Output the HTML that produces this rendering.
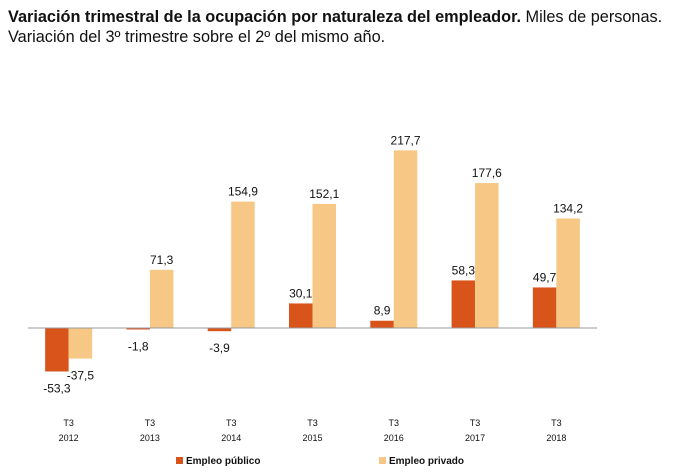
<!DOCTYPE html>
<html><head><meta charset="utf-8"><style>
body{margin:0;background:#fff;width:674px;height:474px;overflow:hidden;font-family:"Liberation Sans",sans-serif}
.t{position:absolute;left:8px;top:7px;font-size:16.3px;color:#111;line-height:20px}
</style></head><body>
<div class="t"><b>Variación trimestral de la ocupación por naturaleza del empleador.</b> Miles de personas.<br>Variación del 3º trimestre sobre el 2º del mismo año.</div>
<svg id="c" width="674" height="474" style="position:absolute;left:0;top:0"></svg>
<script>
const categories=["2012","2013","2014","2015","2016","2017","2018"];
const publico=[-53.3,-1.8,-3.9,30.1,8.9,58.3,49.7];
const privado=[-37.5,71.3,154.9,152.1,217.7,177.6,134.2];
const svg=document.getElementById('c');
const NS='http://www.w3.org/2000/svg';
const x0=28,x1=597,y0=328,k=0.816;
const gw=(x1-x0)/categories.length,bw=23.5;
const y=v=>y0-v*k;
const cx=i=>x0+gw*(i+0.5);
function mk(t,a,txt){const e=document.createElementNS(NS,t);for(const n in a)e.setAttribute(n,a[n]);if(txt!==undefined)e.textContent=txt;svg.appendChild(e);return e;}
const fmt=v=>v.toFixed(1).replace('.',',');
categories.forEach((c,i)=>{
 [[publico[i],'#D9541A',-1,'bar-publico'],[privado[i],'#F6C785',0,'bar-privado']].forEach(([v,col,o,nm])=>{
  const bx=cx(i)+o*bw;
  const r=mk('rect',{x:bx,y:Math.min(y(v),y0),width:bw,height:Math.abs(y(v)-y0),fill:col});
  
  
  const ly=v>=0?y(v)-6:y(v)+21;
  const t=mk('text',{x:bx+bw/2,y:ly,'text-anchor':'middle','font-size':'12',fill:'#111'},fmt(v));
  
  
 });
 const a=mk('text',{x:cx(i),y:426,'text-anchor':'middle','font-size':'9',fill:'#111'},'T3');
 
 
 const b=mk('text',{x:cx(i),y:441,'text-anchor':'middle','font-size':'9',fill:'#111'},c);
 
 
});
const ax=mk('line',{x1:x0,x2:x1,y1:y0,y2:y0,stroke:'#999','stroke-width':1});


[[176,'#D9541A','Empleo público'],[379,'#F6C785','Empleo privado']].forEach(([lx,col,tx])=>{
 const s=mk('rect',{x:lx,y:457,width:7,height:7,fill:col});
 
 
 const t=mk('text',{x:lx+10,y:464,'font-size':'10','font-weight':'bold',fill:'#111'},tx);
 
 
});
</script>
</body></html>
